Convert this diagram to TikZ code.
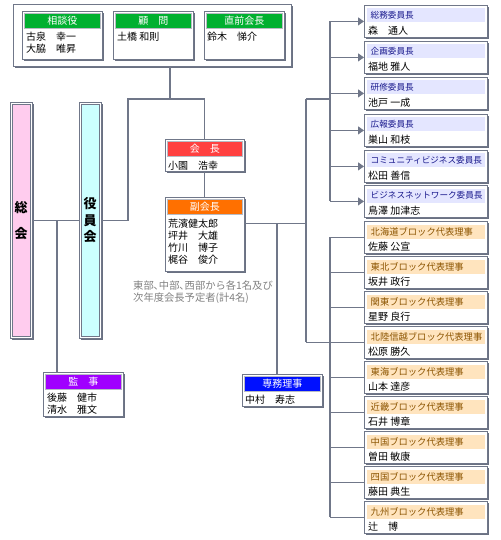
\documentclass[tikz,border=0pt]{standalone}
\usepackage{fontspec}
\newfontfamily\jp{Noto Sans CJK JP}
\usetikzlibrary{shadows,arrows.meta}
\definecolor{linecol}{RGB}{112,119,137}
\definecolor{shcol}{RGB}{106,113,130}
\definecolor{hgreen}{RGB}{0,176,48}
\definecolor{hred}{RGB}{255,64,64}
\definecolor{horange}{RGB}{255,112,0}
\definecolor{hpurple}{RGB}{160,0,255}
\definecolor{hblue}{RGB}{0,16,255}
\definecolor{pinkfill}{RGB}{255,204,238}
\definecolor{cyanfill}{RGB}{204,255,255}
\definecolor{lavband}{RGB}{228,230,255}
\definecolor{navytext}{RGB}{24,24,140}
\definecolor{orband}{RGB}{255,228,190}
\definecolor{browntext}{RGB}{140,84,0}
\definecolor{notegray}{RGB}{128,128,128}
\tikzset{
  sbox/.style={draw=linecol, line width=0.8pt, fill=white, inner sep=0pt, anchor=north west,
    drop shadow={shadow xshift=2pt, shadow yshift=-2pt, fill=shcol, opacity=1}},
  innerbar/.style={draw=linecol, line width=0.6pt, inner sep=0pt, anchor=north west},
  hdr/.style={draw=linecol!50, line width=0.5pt, inner sep=0pt, anchor=north west, text=white,
    font=\jp\fontsize{10}{12}\selectfont},
  nm/.style={anchor=base west, inner sep=0pt, font=\jp\fontsize{10}{12}\selectfont},
  vt/.style={inner sep=0pt, font=\jp\bfseries\fontsize{13}{14}\selectfont},
  note/.style={anchor=base west, inner sep=0pt, text=notegray, font=\jp\fontsize{10.3}{12}\selectfont},
  comhdr/.style={anchor=north west, fill=lavband, minimum width=118pt, minimum height=14pt,
    text width=110pt, inner xsep=4pt, inner ysep=0pt, align=left, text=navytext,
    font=\jp\fontsize{8.6}{10}\selectfont},
  blkhdr/.style={anchor=north west, fill=orband, minimum width=118pt, minimum height=14pt,
    text width=110pt, inner xsep=4pt, inner ysep=0pt, align=left, text=browntext,
    font=\jp\fontsize{9.3}{10}\selectfont},
  conn/.style={draw=linecol, line width=1.1pt},
  tip/.style={-{Triangle[length=6pt,width=8pt]}}
}
\newcommand\RB[5]{%
  \node[sbox, minimum width=123pt, minimum height=32pt] (#1) at (364,#2) {};
  \node[#3hdr] (#1h) at (366.5,{#2+3.3}) {#4};
  \node[nm] (#1n) at (368,{#2+29.5}) {#5};
}
\begin{document}
\begin{tikzpicture}[x=1pt,y=-1pt]
\useasboundingbox (0,0) rectangle (500,540);
% top group
\node[sbox, minimum width=278pt, minimum height=62pt] (top) at (13,4) {};
\node[sbox, minimum width=80pt, minimum height=48pt] (soudan) at (22,11) {};
\node[hdr, fill=hgreen, minimum width=76pt, minimum height=15pt] (soudanh) at (24,13) {相談役};
\node[nm] (soudan1) at (26,41) {古泉　幸一};
\node[nm] (soudan2) at (26,53) {大脇　唯昇};
\node[sbox, minimum width=80pt, minimum height=48pt] (komon) at (113,11) {};
\node[hdr, fill=hgreen, minimum width=76pt, minimum height=15pt] (komonh) at (115,13) {顧　問};
\node[nm] (komon1) at (117,41) {土橋 和則};
\node[sbox, minimum width=80pt, minimum height=48pt] (zenkai) at (204,11) {};
\node[hdr, fill=hgreen, minimum width=76pt, minimum height=15pt] (zenkaih) at (206,13) {直前会長};
\node[nm] (zenkai1) at (207,41) {鈴木　悌介};
% vertical bars
\node[sbox, minimum width=22pt, minimum height=236pt] (soukai) at (10,102) {};
\node[innerbar, fill=pinkfill, minimum width=18pt, minimum height=232pt] (soukaiin) at (12,104) {};
\node[vt] (sk1) at (21,208) {総};
\node[vt] (sk2) at (21,234) {会};
\node[sbox, minimum width=22pt, minimum height=236pt] (yakuin) at (79,102) {};
\node[innerbar, fill=cyanfill, minimum width=18pt, minimum height=232pt] (yakuinin) at (81,104) {};
\node[vt] (yk1) at (90,204) {役};
\node[vt] (yk2) at (90,220.5) {員};
\node[vt] (yk3) at (90,237) {会};
% president
\node[sbox, minimum width=79pt, minimum height=32pt] (kaicho) at (165,139) {};
\node[hdr, fill=hred, minimum width=75pt, minimum height=15pt] (kaichoh) at (167,141) {会　長};
\node[nm] (kaicho1) at (168,169) {小園　浩幸};
\node[sbox, minimum width=79pt, minimum height=74pt] (fuku) at (165,197) {};
\node[hdr, fill=horange, minimum width=75pt, minimum height=15pt] (fukuh) at (167,199) {副会長};
\node[nm] (fuku1) at (168,227) {荒濱健太郎};
\node[nm] (fuku2) at (168,239) {坪井　大雄};
\node[nm] (fuku3) at (168,251) {竹川　博子};
\node[nm] (fuku4) at (168,263) {梶谷　俊介};
\node[note] (note1) at (133,289) {東部､中部､西部から各1名及び};
\node[note] (note2) at (133,301) {次年度会長予定者(計4名)};
\node[sbox, minimum width=80pt, minimum height=44pt] (kanji) at (43,372) {};
\node[hdr, fill=hpurple, minimum width=76pt, minimum height=15pt] (kanjih) at (45,374) {監　事};
\node[nm] (kanji1) at (47,401) {後藤　健市};
\node[nm] (kanji2) at (47,413) {清水　雅文};
\node[sbox, minimum width=80pt, minimum height=32pt] (senmu) at (242,374) {};
\node[hdr, fill=hblue, minimum width=76pt, minimum height=15pt] (senmuh) at (244,376) {専務理事};
\node[nm] (senmu1) at (245,403) {中村　寿志};
% right column
\RB{b1}{5}{com}{総務委員長}{森　通人}
\RB{b2}{41}{com}{企画委員長}{福地 雅人}
\RB{b3}{77}{com}{研修委員長}{池戸 一成}
\RB{b4}{114}{com}{広報委員長}{巣山 和枝}
\RB{b5}{150}{com}{コミュニティビジネス委員長}{松田 善信}
\RB{b6}{185}{com}{ビジネスネットワーク委員長}{鳥澤 加津志}
\RB{b7}{221}{blk}{北海道ブロック代表理事}{佐藤 公宣}
\RB{b8}{256}{blk}{東北ブロック代表理事}{坂井 政行}
\RB{b9}{291}{blk}{関東ブロック代表理事}{星野 良行}
\RB{b10}{326}{blk}{北陸信越ブロック代表理事}{松原 勝久}
\RB{b11}{361}{blk}{東海ブロック代表理事}{山本 達彦}
\RB{b12}{396}{blk}{近畿ブロック代表理事}{石井 博章}
\RB{b13}{431}{blk}{中国ブロック代表理事}{曽田 敏康}
\RB{b14}{466}{blk}{四国ブロック代表理事}{藤田 典生}
\RB{b15}{501}{blk}{九州ブロック代表理事}{辻　博}
% connectors
\coordinate (j1) at (170,99);
\coordinate (j2) at (128,99);
\coordinate (kj) at (57,0);
\coordinate (sx) at (277,0);
\coordinate (bx) at (306,0);
\coordinate (ux) at (330,0);
\coordinate (fe) at ([yshift=11pt]fuku.east);
\draw[conn] (top.south -| j1) -- (j1);
\draw[conn] (yakuin.east) -- (j2 |- yakuin.east) -- (j2) -- (kaicho.north |- j2) -- (kaicho.north);
\draw[conn] (soukai.east) -- (yakuin.west);
\draw[conn] (kj |- soukai.east) -- (kj |- kanji.north);
\draw[conn] (kaicho.south) -- (fuku.north);
\draw[conn] (fe) -- (bx |- fe);
\draw[conn] (sx |- fe) -- (sx |- senmu.north);
\draw[conn] (bx |- j1) -- (bx |- b10.west);
\draw[conn] (bx |- j1) -- (ux |- j1);
\draw[conn] (ux |- b1.west) -- (ux |- b6.west);
\draw[conn] (ux |- b7.west) -- (ux |- b15.west);
\draw[conn] (bx |- b10.west) -- (ux |- b10.west);
\foreach \i in {1,...,6} {\draw[conn, tip, fill=linecol] (ux |- b\i.west) -- (b\i.west);}
\foreach \i in {7,...,15} {\draw[conn] (ux |- b\i.west) -- (b\i.west);}
\end{tikzpicture}
\end{document}
